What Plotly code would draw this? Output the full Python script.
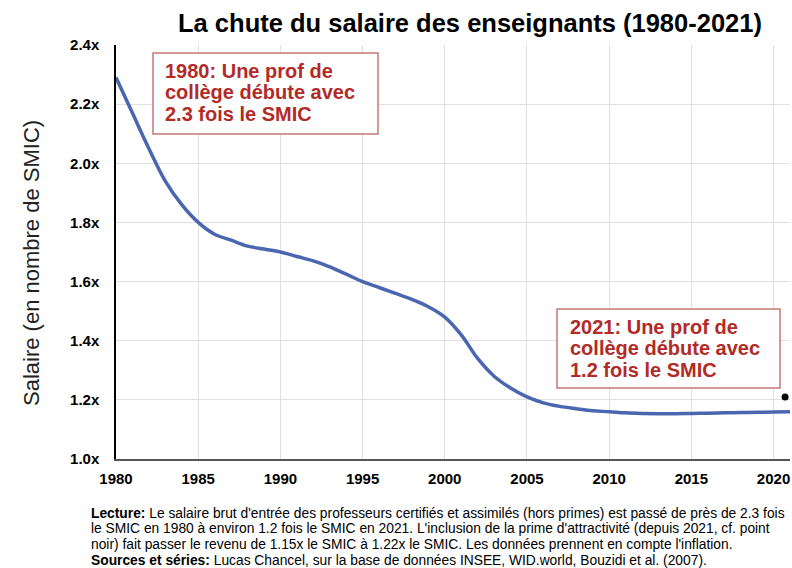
import plotly.graph_objects as go

years = list(range(1980, 2022))
ratio = [2.29, 2.17, 2.05, 1.94, 1.86, 1.80, 1.76, 1.74, 1.72, 1.71, 1.70,
         1.685, 1.67, 1.65, 1.625, 1.60, 1.58, 1.56, 1.54, 1.515, 1.48,
         1.42, 1.34, 1.28, 1.24, 1.21, 1.19, 1.178, 1.17, 1.163, 1.16,
         1.156, 1.154, 1.153, 1.153, 1.154, 1.155, 1.156, 1.157, 1.158, 1.159, 1.16]
dot_year = [2020.7]
dot_value = [1.21]
x_ticks = [1980, 1985, 1990, 1995, 2000, 2005, 2010, 2015, 2020]
y_ticks = [1.0, 1.2, 1.4, 1.6, 1.8, 2.0, 2.2, 2.4]
y_tick_labels = ["1.0x", "1.2x", "1.4x", "1.6x", "1.8x", "2.0x", "2.2x", "2.4x"]

box1_lines = ["1980: Une prof de", "collège débute avec", "2.3 fois le SMIC"]
box2_lines = ["2021: Une prof de", "collège débute avec", "1.2 fois le SMIC"]
foot_lines = [
    "<b>Lecture:</b> Le salaire brut d'entrée des professeurs certifiés et assimilés (hors primes) est passé de près de 2.3 fois",
    "le SMIC en 1980 à environ 1.2 fois le SMIC en 2021. L'inclusion de la prime d'attractivité (depuis 2021, cf. point",
    "noir) fait passer le revenu de 1.15x le SMIC à 1.22x le SMIC. Les données prennent en compte l'inflation.",
    "<b>Sources et séries:</b> Lucas Chancel, sur la base de données INSEE, WID.world, Bouzidi et al. (2007).",
]

W, H = 792, 568
L, R, T, B = 116, 2, 45, 109
pw, ph = W - L - R, H - T - B

def px(x):
    return (x - L) / pw

def py(y):
    return (H - B - y) / ph

fig = go.Figure()
fig.add_trace(go.Scatter(x=years, y=ratio, mode="lines",
                         line=dict(color="#4a66b0", width=3.5, shape="spline", smoothing=1.0),
                         showlegend=False, hoverinfo="skip"))
fig.add_trace(go.Scatter(x=dot_year, y=dot_value, mode="markers",
                         marker=dict(color="black", size=7), showlegend=False))

font = "Liberation Sans, Arial, sans-serif"
fig.update_layout(
    width=W, height=H,
    margin=dict(l=L, r=R, t=T, b=B),
    paper_bgcolor="white", plot_bgcolor="white",
    font=dict(family=font, color="black"),
    title=dict(text="<b>La chute du salaire des enseignants (1980-2021)</b>",
               xref="container", x=470 / W, xanchor="center",
               yref="container", y=1 - 23 / H, yanchor="middle",
               font=dict(size=25.5, color="black", family=font)),
    xaxis=dict(range=[1980, 2021], tickvals=x_ticks, ticktext=[f"<b>{v}</b>" for v in x_ticks],
               showgrid=True, gridcolor="#e0e0e0", gridwidth=1,
               showline=True, linecolor="#555555", linewidth=1.5,
               ticks="", ticklabelstandoff=5, tickfont=dict(size=15, color="black"), zeroline=False),
    yaxis=dict(range=[1.0, 2.4], tickvals=y_ticks, ticktext=[f"<b>{t}</b>" for t in y_tick_labels],
               showgrid=True, gridcolor="#e0e0e0", gridwidth=1,
               showline=True, linecolor="black", linewidth=1.5,
               ticks="", ticklabelstandoff=12, tickfont=dict(size=15, color="black"), zeroline=False),
)

# y-axis title
fig.add_annotation(xref="paper", yref="paper", x=px(31), y=py(263),
                   xanchor="center", yanchor="middle", textangle=-90, showarrow=False,
                   text="Salaire (en nombre de SMIC)",
                   font=dict(size=22, color="#222222", family=font))

box_font = dict(size=20, color="#b22b26", family=font)
def add_box(x0, y0, x1, y1, lines, tx, first_center):
    fig.add_shape(type="rect", xref="paper", yref="paper",
                  x0=px(x0), x1=px(x1), y0=py(y1), y1=py(y0),
                  line=dict(color="#c27a76", width=1.5), fillcolor="white", layer="above")
    for i, t in enumerate(lines):
        fig.add_annotation(xref="paper", yref="paper", x=px(tx), y=py(first_center + 21.5 * i),
                           xanchor="left", yanchor="middle", align="left", showarrow=False,
                           text=f"<b>{t}</b>", font=box_font)

add_box(153, 53, 378, 134, box1_lines, 163, 71)
add_box(557, 309, 780, 388, box2_lines, 568, 327)

for i, t in enumerate(foot_lines):
    fig.add_annotation(xref="paper", yref="paper", x=px(89), y=py(513 + 15.7 * i),
                       xanchor="left", yanchor="middle", align="left", showarrow=False,
                       text=t, font=dict(size=13.8, color="black", family=font))

fig.write_html("out.html", config={"displayModeBar": False},
               post_script="document.body.style.margin='0';")
